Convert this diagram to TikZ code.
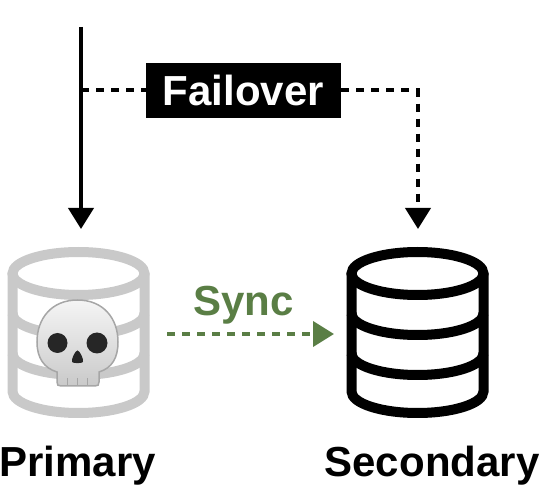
\documentclass[tikz,border=0pt]{standalone}
\usepackage{fontspec}
\setmainfont{Liberation Sans}
\usetikzlibrary{arrows.meta}
\definecolor{deadgray}{HTML}{C9C9C9}
\definecolor{syncgreen}{HTML}{5A7E45}
\tikzset{
  label text/.style={font=\bfseries\fontsize{42}{48}\selectfont, inner sep=0pt, anchor=base},
  bigtip/.style={-{Triangle[length=21pt,width=25pt]}},
  flow/.style={line width=4pt, bigtip},
  dashflow/.style={flow, dash pattern=on 8pt off 7pt},
  cyl/.pic={
    \draw[line width=10pt, pic actions] (0,0) ellipse (66 and 21.5);
    \draw[line width=10pt, pic actions] (-66,0) -- (-66,118) arc (180:0:66 and 21.5) -- (66,0);
    \draw[line width=10pt, pic actions] (-66,40) arc (180:0:66 and 21.5);
    \draw[line width=10pt, pic actions] (-66,80) arc (180:0:66 and 21.5);
  }
}
\begin{document}
\begin{tikzpicture}[x=1pt,y=-1pt]
  \useasboundingbox (0,0) rectangle (542,500);
  % storage
  \pic[draw=deadgray] at (78.5,273.5) {cyl};
  \pic[draw=black] at (417.5,273.5) {cyl};
  % skull
  \draw[line width=1.5pt, draw=gray!70, top color=gray!8, bottom color=gray!42]
    (77.5,300) .. controls (103,300) and (118,318) .. (118,342)
    .. controls (118,358) and (112,368) .. (99,372)
    -- (99,382) .. controls (99,385) and (98,386) .. (95,386)
    -- (61,386) .. controls (58,386) and (57,385) .. (57,382)
    -- (57,372) .. controls (44,368) and (37,358) .. (37,342)
    .. controls (37,318) and (52,300) .. (77.5,300) -- cycle;
  \foreach \xtooth in {67,77,87}
    \draw[line width=1pt, gray!70] (\xtooth,378) -- (\xtooth,385);
  \fill[black!85] (57.5,343) circle (10);
  \fill[black!85] (97,343) circle (10.5);
  \fill[black!85] (77.5,350.5) .. controls (80,350.5) and (84,360) .. (83,362)
    .. controls (82,363.5) and (73,363.5) .. (72,362)
    .. controls (71,360) and (75,350.5) .. (77.5,350.5) -- cycle;
  % labels
  \node[label text] (primary) at (77.5,476) {Primary};
  \node[label text] (secondary) at (432,476) {Secondary};
  \node[label text, syncgreen] (sync) at (243.5,315.5) {Sync};
  \node[fill=black, text=white, minimum width=195pt, minimum height=55pt, inner sep=0pt,
    font=\bfseries\fontsize{42}{48}\selectfont] (failover) at (243.5,90.5) {Failover\hspace{5pt}};
  % connectors
  \coordinate (clientin) at (81,27);
  \coordinate (primaryin) at (81,229);
  \coordinate (branch) at (81,90.5);
  \coordinate (corner) at (418,90.5);
  \coordinate (secondaryin) at (418,229);
  \coordinate (syncout) at (167,334);
  \coordinate (syncin) at (334,334);
  \draw[flow] (clientin) -- (primaryin);
  \draw[line width=4pt, dash pattern=on 8pt off 7pt] (branch) -- (failover.west);
  \draw[dashflow] (failover.east) -- (corner) -- (secondaryin);
  \draw[dashflow, syncgreen] (syncout) -- (syncin);
\end{tikzpicture}
\end{document}
